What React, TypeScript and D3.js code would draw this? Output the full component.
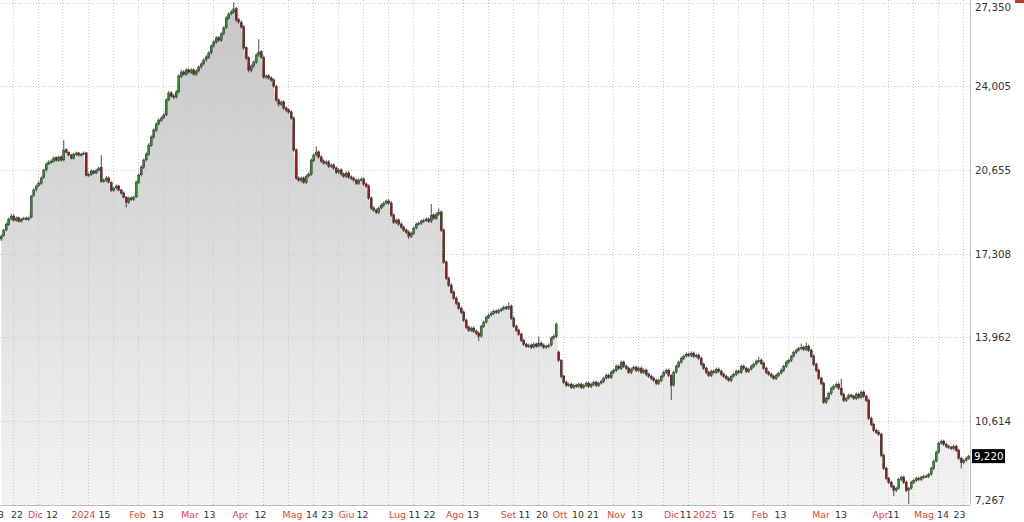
import * as d3 from 'd3';

// daily candles, Nov 2023 -> May 2025
const closes = [
  18010, 18250, 18490, 18690, 18810, 18650, 18730, 18610, 18690, 18730,
  18690, 18730, 19610, 19850, 20010, 20130, 20330, 20650, 20890, 20970,
  21010, 21130, 21050, 21170, 21050, 21450, 21370, 21250, 21130, 21290,
  21330, 21250, 21290, 21330, 20450, 20490, 20610, 20530, 20650, 20730,
  20200, 20250, 20330, 20170, 19850, 19930, 20010, 19850, 19730, 19570,
  19370, 19530, 19490, 19570, 20170, 20450, 20770, 21050, 21290, 21650,
  21970, 22250, 22490, 22650, 22730, 22850, 23450, 23730, 23610, 23570,
  23770, 24410, 24570, 24490, 24650, 24570, 24650, 24490, 24610, 24770,
  24890, 25050, 25170, 25330, 25610, 25770, 25930, 25850, 26090, 26330,
  26730, 26890, 26970, 27090, 26650, 26570, 26370, 25530, 25130, 24650,
  24810, 24970, 25250, 25370, 25170, 24370, 24410, 24330, 24250, 24010,
  23450, 23290, 23370, 23130, 23050, 22970, 22730, 21450, 20330, 20250,
  20330, 20170, 20410, 20490, 21050, 21250, 21370, 21170, 21010, 20930,
  20970, 20810, 20850, 20730, 20570, 20650, 20490, 20410, 20530, 20370,
  20330, 20250, 20130, 20250, 20290, 20090, 20010, 19530, 19130, 19050,
  18970, 19130, 19250, 19330, 19410, 19330, 18850, 18570, 18650, 18490,
  18370, 18250, 18170, 18010, 18130, 18330, 18490, 18530, 18610, 18650,
  18690, 18610, 18850, 18730, 18890, 18970, 18250, 16970, 16330, 16050,
  15770, 15530, 15330, 15130, 14970, 14650, 14370, 14250, 14330, 14210,
  14130, 14010, 14410, 14570, 14770, 14850, 14930, 15010, 14970, 15050,
  15090, 15170, 15130, 15210, 14730, 14410, 14250, 14090, 13850, 13690,
  13610, 13650, 13570, 13690, 13610, 13730, 13650, 13570, 13610, 13650,
  13930, 14010, 14490, 13050, 12410, 12170, 12050, 12090, 11970, 12050,
  12010, 12090, 11970, 12050, 12130, 12010, 12090, 12170, 12050, 12130,
  12210, 12330, 12450, 12370, 12570, 12650, 12810, 12730, 12970, 12810,
  12730, 12570, 12690, 12770, 12650, 12730, 12570, 12650, 12490, 12410,
  12330, 12250, 12130, 12250, 12410, 12570, 12650, 12450, 12050, 12570,
  12810, 12970, 13130, 13210, 13290, 13250, 13330, 13210, 13250, 13130,
  12890, 12730, 12570, 12450, 12610, 12570, 12690, 12610, 12490, 12410,
  12330, 12250, 12410, 12490, 12610, 12570, 12810, 12730, 12610, 12690,
  12810, 12890, 13010, 13050, 12930, 12730, 12570, 12490, 12410, 12330,
  12450, 12530, 12650, 12810, 12970, 13050, 13210, 13370, 13450, 13530,
  13570, 13490, 13610, 13450, 13210, 12890, 12650, 12330, 12130, 11370,
  11530, 11730, 11930, 12010, 12090, 11930, 11690, 11450, 11530, 11650,
  11610, 11530, 11690, 11570, 11770, 11610, 11450, 10730, 10490, 10250,
  10170, 10090, 9250, 8730, 8330, 8170, 8010, 7850, 7930, 8290,
  8370, 8170, 7850, 7930, 8170, 8250, 8330, 8290, 8370, 8410,
  8410, 8490, 8730, 9010, 9370, 9730, 9810, 9690, 9610, 9570,
  9530, 9610, 9450, 9130, 8970, 9050, 9130, 9220,
];

const opens = [
  17900, 18030, 18260, 18470, 18700, 18820, 18640, 18750, 18600, 18700,
  18740, 18680, 18760, 19640, 19870, 20040, 20120, 20350, 20660, 20900,
  20960, 21000, 21150, 21040, 21180, 21060, 21470, 21360, 21260, 21120,
  21280, 21340, 21240, 21300, 21340, 20440, 20480, 20620, 20540, 20640,
  20760, 20190, 20240, 20340, 20160, 19840, 19940, 20020, 19860, 19740,
  19580, 19360, 19540, 19480, 19580, 20160, 20460, 20760, 21060, 21280,
  21640, 21980, 22240, 22500, 22640, 22740, 22860, 23460, 23740, 23620,
  23580, 23780, 24400, 24580, 24480, 24660, 24560, 24660, 24480, 24620,
  24780, 24900, 25060, 25160, 25340, 25620, 25760, 25940, 25840, 26100,
  26340, 26720, 26900, 26960, 27100, 26660, 26560, 26380, 25540, 25140,
  24640, 24820, 24960, 25260, 25380, 25160, 24380, 24420, 24340, 24260,
  24000, 23460, 23280, 23380, 23140, 23060, 22980, 22740, 21460, 20340,
  20240, 20340, 20160, 20420, 20480, 21040, 21260, 21380, 21180, 21020,
  20920, 20980, 20800, 20860, 20740, 20560, 20660, 20500, 20400, 20540,
  20380, 20320, 20260, 20120, 20260, 20300, 20100, 20020, 19540, 19140,
  19060, 18960, 19140, 19240, 19340, 19420, 19340, 18860, 18560, 18660,
  18500, 18380, 18260, 18180, 18000, 18120, 18340, 18500, 18520, 18600,
  18640, 18700, 18600, 18860, 18720, 18880, 18980, 18260, 16980, 16340,
  16060, 15780, 15540, 15340, 15140, 14980, 14660, 14380, 14240, 14340,
  14220, 14140, 14020, 14400, 14580, 14760, 14860, 14920, 15020, 14960,
  15040, 15100, 15180, 15120, 15220, 14740, 14420, 14260, 14100, 13860,
  13700, 13600, 13660, 13580, 13700, 13620, 13740, 13660, 13580, 13600,
  13660, 13940, 14000, 13380, 13040, 12420, 12180, 12040, 12100, 11960,
  12060, 12000, 12100, 11960, 12040, 12140, 12000, 12080, 12180, 12040,
  12140, 12200, 12340, 12460, 12360, 12580, 12640, 12820, 12720, 12980,
  12820, 12740, 12560, 12700, 12780, 12640, 12740, 12560, 12660, 12500,
  12420, 12340, 12260, 12120, 12240, 12420, 12560, 12660, 12440, 12060,
  12580, 12800, 12980, 13120, 13220, 13300, 13240, 13340, 13200, 13260,
  13140, 12900, 12740, 12580, 12440, 12620, 12560, 12700, 12620, 12500,
  12420, 12340, 12240, 12420, 12480, 12620, 12560, 12820, 12740, 12600,
  12700, 12800, 12900, 13000, 13060, 12940, 12740, 12580, 12500, 12420,
  12320, 12440, 12540, 12640, 12800, 12980, 13040, 13220, 13360, 13460,
  13520, 13580, 13480, 13620, 13460, 13220, 12900, 12660, 12340, 12140,
  11380, 11520, 11740, 11920, 12000, 12100, 11940, 11700, 11440, 11540,
  11660, 11620, 11520, 11700, 11560, 11780, 11620, 11460, 10740, 10500,
  10260, 10180, 10100, 9260, 8740, 8340, 8180, 8020, 7860, 7940,
  8280, 8380, 8180, 7860, 7940, 8160, 8240, 8340, 8280, 8360,
  8420, 8400, 8500, 8720, 9020, 9380, 9740, 9820, 9700, 9620,
  9580, 9520, 9620, 9460, 9140, 8960, 9060, 9120,
];

const highs = [
  18080, 18300, 18560, 18760, 18900, 18880, 18800, 18790, 18740, 18790,
  18790, 18800, 19660, 19930, 20080, 20200, 20400, 20700, 20950, 21050,
  21080, 21200, 21190, 21230, 21240, 21850, 21520, 21400, 21300, 21340,
  21390, 21380, 21330, 21400, 21380, 20560, 20680, 20660, 20700, 20790,
  21250, 20320, 20420, 20400, 20200, 19990, 20080, 20060, 19900, 19800,
  19600, 19600, 19600, 19620, 20230, 20520, 20840, 21120, 21360, 21720,
  22040, 22320, 22560, 22720, 22800, 22920, 23520, 23820, 23800, 23700,
  23840, 24480, 24640, 24650, 24720, 24720, 24720, 24720, 24680, 24840,
  24960, 25120, 25240, 25400, 25680, 25840, 26010, 26010, 26160, 26400,
  26800, 26960, 27050, 27350, 27180, 26740, 26640, 26440, 25600, 25200,
  24880, 25040, 25320, 25880, 25440, 25230, 24480, 24480, 24400, 24320,
  24060, 23520, 23440, 23440, 23200, 23120, 23040, 22800, 21520, 20400,
  20400, 20400, 20480, 20560, 21120, 21320, 21600, 21440, 21240, 21080,
  21040, 21050, 20920, 20920, 20800, 20720, 20720, 20560, 20600, 20600,
  20440, 20400, 20320, 20320, 20360, 20360, 20160, 20080, 19600, 19200,
  19120, 19200, 19320, 19400, 19480, 19490, 19400, 18920, 18720, 18720,
  18560, 18440, 18320, 18240, 18200, 18400, 18560, 18600, 18680, 18720,
  18760, 18760, 19300, 18920, 18960, 19120, 19040, 18320, 17040, 16400,
  16120, 15840, 15600, 15400, 15200, 15040, 14720, 14440, 14400, 14400,
  14280, 14200, 14480, 14640, 14840, 14920, 15000, 15080, 15080, 15120,
  15160, 15240, 15240, 15360, 15280, 14800, 14480, 14320, 14160, 13920,
  13760, 13720, 13720, 13760, 13760, 14000, 13800, 13720, 13680, 13720,
  14000, 14080, 14560, 13440, 13100, 12480, 12240, 12160, 12160, 12120,
  12120, 12160, 12160, 12120, 12200, 12200, 12160, 12240, 12240, 12200,
  12280, 12400, 12520, 12520, 12640, 12720, 12880, 12880, 13040, 13040,
  12880, 12800, 12760, 12840, 12840, 12800, 12800, 12720, 12720, 12560,
  12480, 12400, 12320, 12320, 12480, 12640, 12720, 12720, 12500, 12640,
  12880, 13040, 13200, 13280, 13360, 13360, 13400, 13400, 13320, 13320,
  13200, 12960, 12800, 12640, 12680, 12680, 12760, 12760, 12680, 12560,
  12480, 12400, 12480, 12560, 12680, 12680, 12880, 12880, 12800, 12760,
  12880, 12960, 13080, 13200, 13120, 13000, 12800, 12640, 12560, 12480,
  12520, 12600, 12720, 12880, 13040, 13120, 13280, 13440, 13520, 13600,
  13720, 13640, 13760, 13680, 13520, 13280, 12960, 12720, 12400, 12200,
  11600, 11800, 12000, 12080, 12160, 12160, 12320, 11760, 11600, 11720,
  11720, 11680, 11760, 11760, 11840, 11840, 11680, 11520, 10800, 10560,
  10320, 10260, 10160, 9320, 8800, 8400, 8240, 8080, 8000, 8360,
  8440, 8440, 8240, 8000, 8240, 8320, 8400, 8400, 8440, 8480,
  8480, 8560, 8800, 9080, 9440, 9800, 9880, 9880, 9760, 9680,
  9640, 9680, 9680, 9520, 9200, 9120, 9200, 9280,
];

const lows = [
  17820, 17980, 18200, 18420, 18640, 18600, 18590, 18560, 18560, 18650,
  18640, 18620, 18720, 19580, 19800, 19980, 20060, 20300, 20600, 20850,
  20900, 20950, 20990, 20980, 21000, 21000, 21330, 21200, 21080, 21070,
  21230, 21200, 21200, 21250, 20400, 20380, 20420, 20480, 20490, 20600,
  20150, 20140, 20180, 20120, 19780, 19790, 19880, 19800, 19680, 19520,
  19160, 19300, 19420, 19420, 19540, 20100, 20400, 20700, 21000, 21220,
  21580, 21900, 22180, 22430, 22580, 22680, 22800, 23400, 23550, 23490,
  23510, 23720, 24330, 24420, 24420, 24500, 24500, 24420, 24420, 24560,
  24700, 24840, 24990, 25100, 25270, 25550, 25700, 25780, 25780, 26040,
  26280, 26660, 26830, 26900, 26580, 26500, 26300, 25460, 25040, 24560,
  24560, 24740, 24900, 25180, 25100, 24300, 24300, 24260, 24180, 23940,
  23380, 23200, 23220, 23060, 22980, 22900, 22660, 21380, 20260, 20180,
  20160, 20100, 20100, 20350, 20420, 20980, 21200, 21100, 20940, 20860,
  20860, 20740, 20740, 20660, 20500, 20500, 20420, 20340, 20340, 20300,
  20260, 20180, 20060, 20060, 20200, 20020, 19940, 19460, 19060, 18980,
  18900, 18900, 19080, 19180, 19280, 19260, 18780, 18500, 18500, 18420,
  18300, 18180, 18100, 17900, 17940, 18060, 18280, 18440, 18460, 18540,
  18580, 18540, 18540, 18660, 18660, 18820, 18180, 16900, 16260, 15980,
  15700, 15460, 15260, 15060, 14900, 14580, 14300, 14180, 14180, 14140,
  14060, 13830, 13960, 14340, 14520, 14700, 14800, 14860, 14900, 14900,
  14980, 15040, 15060, 15060, 14660, 14340, 14180, 14020, 13780, 13620,
  13540, 13540, 13500, 13520, 13540, 13560, 13580, 13500, 13510, 13540,
  13600, 13880, 13940, 12980, 12340, 12100, 11980, 11980, 11900, 11900,
  11940, 11940, 11900, 11900, 11980, 11940, 11940, 12020, 11980, 11980,
  12080, 12140, 12280, 12300, 12300, 12500, 12580, 12660, 12660, 12740,
  12660, 12500, 12500, 12640, 12580, 12580, 12500, 12500, 12420, 12340,
  12260, 12180, 12060, 12060, 12180, 12360, 12500, 12380, 11460, 12000,
  12520, 12740, 12900, 13060, 13160, 13180, 13180, 13140, 13140, 13060,
  12820, 12660, 12500, 12380, 12380, 12500, 12500, 12540, 12420, 12340,
  12260, 12180, 12180, 12360, 12420, 12500, 12500, 12660, 12540, 12540,
  12640, 12740, 12840, 12940, 12860, 12660, 12500, 12420, 12340, 12260,
  12260, 12380, 12480, 12580, 12740, 12900, 12980, 13160, 13300, 13400,
  13460, 13420, 13420, 13380, 13140, 12820, 12580, 12260, 12060, 11300,
  11300, 11460, 11660, 11860, 11940, 11860, 11620, 11380, 11380, 11480,
  11540, 11460, 11460, 11500, 11500, 11540, 11380, 10660, 10420, 10180,
  10100, 10020, 9180, 8660, 8260, 8100, 7940, 7620, 7780, 7880,
  8220, 8100, 7780, 7300, 7880, 8100, 8180, 8220, 8220, 8300,
  8340, 8340, 8440, 8660, 8960, 9320, 9680, 9620, 9540, 9500,
  9460, 9450, 9380, 9060, 8730, 8900, 8990, 9060,
];

const yTicks = [27350, 24005, 20655, 17308, 13962, 10614, 7267];
const lastPrice = 9220;

// bottom axis labels and the candle index they sit on
const xLabels = [
  '13', '22', 'Dic', '12', '2024', '15', 'Feb', '13', 'Mar', '13', 'Apr', '12',
  'Mag', '14', '23', 'Giu', '12', 'Lug', '11', '22', 'Ago', '13', 'Set', '11',
  '20', 'Ott', '10', '21', 'Nov', '13', 'Dic', '11', '2025', '15', 'Feb', '13',
  'Mar', '13', 'Apr', '11', 'Mag', '14', '23',
];
const xLabelAt = [
  -1.3, 6.3, 13.7, 20.3, 32.9, 41.3, 54.5, 62.7, 75.5, 83.3, 95.7, 103.7,
  116.5, 124.3, 130.5, 138.1, 144.5, 158.5, 165.3, 171.3, 181.5, 188.7, 202.9, 209.3,
  216.3, 223.5, 230.7, 236.7, 246.1, 254.3, 268.1, 273.8, 281.5, 290.9, 303.5, 311.7,
  327.9, 335.9, 351.7, 356.9, 369.1, 376.7, 383.3,
];

const W = 1024;
const H = 522;
const plotRight = 970;
const plotBottom = 505;
const font = '"DejaVu Sans", Verdana, sans-serif';

export default function App() {
  const n = closes.length;
  const x = d3.scaleLinear().domain([0, n]).range([0, plotRight]);
  const y = d3.scaleLinear().domain([7267, 27350]).range([plotBottom, 2.5]);

  const area = d3
    .area<number>()
    .x((_, i) => x(i + 0.5))
    .y0(plotBottom)
    .y1((d) => y(d));

  const vGrid = d3.range(5, n, 10);
  const isRed = (s: string) => isNaN(+s) || s.length === 4;

  return (
    <svg
      width={W}
      height={H}
      style={{ position: 'fixed', left: 0, top: 0, background: '#fff' }}>
      <defs>
        <linearGradient id='fillGrad' gradientUnits='userSpaceOnUse' x1='0' y1='0' x2='0' y2={plotBottom}>
          <stop offset='0%' stopColor='#c6c6c6' />
          <stop offset='100%' stopColor='#f3f3f3' />
        </linearGradient>
        <clipPath id='plotClip'>
          <rect x={0} y={0} width={plotRight} height={plotBottom} />
        </clipPath>
      </defs>

      <path d={area(closes) ?? ''} fill='url(#fillGrad)' clipPath='url(#plotClip)' />

      {/* grid */}
      <g stroke='#c9c9c9' strokeWidth={1} strokeDasharray='1,2'>
        {vGrid.map((i) => (
          <line key={'v' + i} x1={Math.round(x(i)) + 0.5} x2={Math.round(x(i)) + 0.5} y1={0} y2={plotBottom} />
        ))}
        {yTicks.map((t) => (
          <line key={'h' + t} x1={0} x2={plotRight} y1={Math.round(y(t)) + 0.5} y2={Math.round(y(t)) + 0.5} />
        ))}
      </g>

      {/* candles */}
      <g clipPath='url(#plotClip)'>
        {closes.map((c, i) => {
          const o = opens[i];
          const cx = x(i + 0.5);
          const up = c >= o;
          const top = y(Math.max(o, c));
          const bot = y(Math.min(o, c));
          return (
            <g key={i}>
              <line x1={cx} x2={cx} y1={y(highs[i])} y2={y(lows[i])} stroke='#222' strokeWidth={0.8} />
              <rect
                x={cx - 1}
                y={top}
                width={2}
                height={Math.max(1, bot - top)}
                fill={up ? '#2f8f2f' : '#8e1c1c'}
                stroke='#222'
                strokeWidth={0.4}
              />
            </g>
          );
        })}
      </g>

      {/* frame */}
      <line x1={plotRight + 0.5} x2={plotRight + 0.5} y1={0} y2={plotBottom} stroke='#bdbdbd' />
      <line x1={0} x2={plotRight} y1={plotBottom + 0.5} y2={plotBottom + 0.5} stroke='#bdbdbd' />

      {/* y labels */}
      <g fontFamily={font} fontSize={10.3} fill='#333'>
        {yTicks.map((t) => (
          <text key={t} x={975} y={Math.max(7, Math.min(500, y(t)))} dominantBaseline='central'>
            {d3.format(',')(t)}
          </text>
        ))}
      </g>

      {/* last price */}
      <rect x={972} y={y(lastPrice) - 7} width={33} height={14} fill='#000' />
      <text
        x={974}
        y={y(lastPrice)}
        dominantBaseline='central'
        fontFamily={font}
        fontSize={10.3}
        fill='#fff'>
        {d3.format(',')(lastPrice)}
      </text>

      {/* x labels */}
      <g fontFamily={font} fontSize={9.4} textAnchor='middle'>
        {xLabels.map((s, k) => (
          <text key={k} x={x(xLabelAt[k] + 0.5)} y={514} dominantBaseline='central' fill={isRed(s) ? '#e0443e' : '#333'}>
            {s}
          </text>
        ))}
      </g>

      <rect x={1015} y={0} width={9} height={3} fill='#c0392b' />
    </svg>
  );
}
